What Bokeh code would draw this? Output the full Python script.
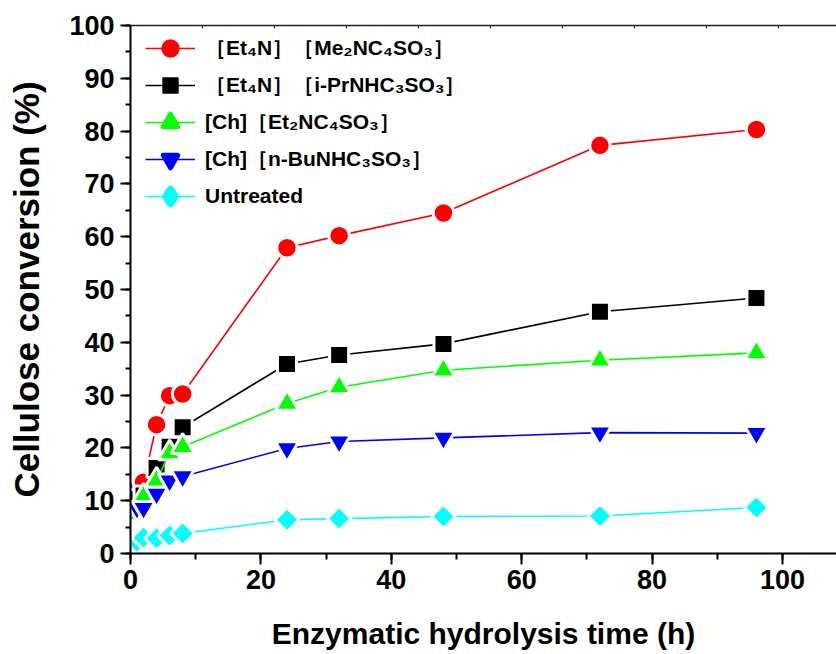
import math
from bokeh.plotting import figure
from bokeh.models import Range1d, LinearAxis, Legend, LegendItem, FixedTicker, SingleIntervalTicker
from bokeh.embed import file_html
from bokeh.resources import INLINE

# ---- data ----
time_h = [1, 2, 4, 6, 8, 24, 32, 48, 72, 96]
et4n_me2nc4so3 = [12.0, 13.5, 24.4, 29.9, 30.2, 57.9, 60.2, 64.5, 77.3, 80.3]
et4n_iprnhc3so3 = [10.3, 11.0, 16.2, 20.2, 23.9, 35.9, 37.6, 39.7, 45.8, 48.4]
ch_et2nc4so3 = [7.5, 10.8, 13.8, 19.0, 20.2, 28.4, 31.5, 34.7, 36.6, 38.0]
ch_nbunhc3so3 = [8.6, 8.6, 11.3, 13.8, 14.6, 19.9, 21.2, 21.9, 22.9, 22.8]
untreated = [2.2, 3.0, 2.9, 3.4, 3.8, 6.4, 6.6, 7.0, 7.1, 8.7]

series_labels = [
    "\uff3bEt\u2084N\uff3d\uff3bMe\u2082NC\u2084SO\u2083\uff3d",
    "\uff3bEt\u2084N\uff3d\uff3bi-PrNHC\u2083SO\u2083\uff3d",
    "[Ch]\uff3bEt\u2082NC\u2084SO\u2083\uff3d",
    "[Ch]\uff3bn-BuNHC\u2083SO\u2083\uff3d",
    "Untreated",
]
series_values = [et4n_me2nc4so3, et4n_iprnhc3so3, ch_et2nc4so3, ch_nbunhc3so3, untreated]
colors = ["#FF0000", "#000000", "#00FF00", "#0000FF", "#00FFFF"]
markers = ["circle", "square", "triangle", "inverted_triangle", "square"]
sizes = [20.5, 19, 23, 23, 17]
angles = [0, 0, 0, 0, math.pi / 4]
legend_markers = ["circle", "square", "triangle", "inverted_triangle", "diamond"]
legend_strokes = [4, 2, 5, 5, 7]

FONT = "Liberation Sans"
NAN = float("nan")

p = figure(width=836, height=654,
           x_range=Range1d(0, 108.28), y_range=Range1d(0, 100),
           output_backend="svg", toolbar_location=None,
           min_border_left=130, min_border_right=0,
           min_border_top=25, min_border_bottom=101,
           x_axis_label="Enzymatic hydrolysis time (h)",
           y_axis_label="Cellulose conversion (%)")
p.outline_line_color = None
p.xgrid.visible = False
p.ygrid.visible = False
p.background_fill_color = "white"

# axes styling
p.xaxis.ticker = SingleIntervalTicker(interval=20, num_minor_ticks=2)
p.yaxis.ticker = SingleIntervalTicker(interval=10, num_minor_ticks=2)
for ax in (p.xaxis[0], p.yaxis[0]):
    ax.axis_line_width = 2
    ax.major_tick_line_width = 2
    ax.minor_tick_line_width = 2
    ax.major_tick_in = 0
    ax.minor_tick_in = 0
    ax.major_label_text_font = FONT
    ax.major_label_text_font_style = "bold"
    ax.major_label_text_font_size = "27px"
    ax.major_label_text_color = "black"
    ax.axis_label_text_font = FONT
    ax.axis_label_text_font_style = "bold"
    ax.axis_label_text_color = "black"
p.yaxis.major_tick_out = 10
p.yaxis.minor_tick_out = 5
p.yaxis.major_label_standoff = 6
p.yaxis.axis_label_standoff = 20
p.yaxis.axis_label_text_font_size = "35px"
p.xaxis.major_tick_out = 11
p.xaxis.minor_tick_out = 6
p.xaxis.major_label_standoff = 5
p.xaxis.axis_label_standoff = 25
p.xaxis.axis_label_text_font_size = "30px"

# top frame axis with small ticks
top_ticks = [1, 2, 3, 4, 5, 6, 7, 8, 9]
p.extra_x_ranges = {"top": Range1d(0, 706 / 72)}
top_ax = LinearAxis(x_range_name="top", ticker=FixedTicker(ticks=top_ticks),
                    major_tick_in=3, major_tick_out=0, minor_tick_in=0, minor_tick_out=0,
                    major_label_overrides={t: "" for t in top_ticks},
                    major_label_standoff=0, axis_line_width=1.5,
                    axis_line_color="#222222", major_tick_line_color="#222222")
p.add_layout(top_ax, "above")

items = []
for ys, col, mk, sz, ang, lab, lmk, lst in zip(series_values, colors, markers, sizes, angles,
                                               series_labels, legend_markers, legend_strokes):
    ln = p.line(time_h, ys, line_color=col, line_width=1.6)
    p.scatter(time_h, ys, marker=mk, size=sz, angle=ang, fill_color=col,
              line_color="white", line_width=3)
    # legend-only key (not a data point: NaN is never drawn in the plot area)
    key = p.scatter([NAN], [NAN], marker=lmk, size=10, fill_color=col, line_color=col,
                    line_width=lst, line_join="round")
    items.append(LegendItem(label=lab, renderers=[ln, key]))

legend = Legend(items=items, location=(15, 339), glyph_width=50, glyph_height=36,
                label_height=36, spacing=1, padding=0, margin=0, label_standoff=10,
                label_text_font=FONT, label_text_font_style="bold",
                label_text_font_size="21px", label_text_color="black",
                background_fill_alpha=0, border_line_alpha=0)
p.add_layout(legend)

open("out.html", "w").write(file_html(p, INLINE))
